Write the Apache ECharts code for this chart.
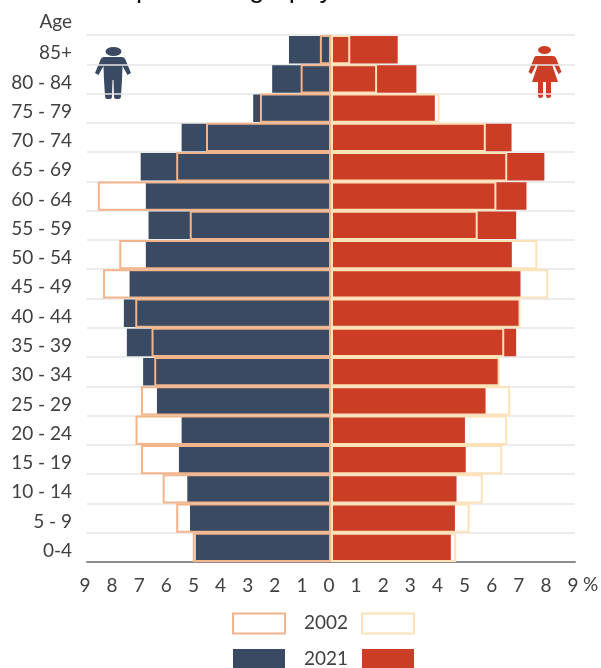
<!DOCTYPE html>
<html>
<head>
<meta charset="utf-8">
<style>
  html, body { margin: 0; padding: 0; background: #fff; overflow: hidden; }
  #chart { width: 601px; height: 668px; }
</style>
</head>
<body>
<div id="chart"></div>
<script src="https://cdn.jsdelivr.net/npm/echarts@6/dist/echarts.min.js"></script>
<script>
const ages = ['0-4', '5 - 9', '10 - 14', '15 - 19', '20 - 24', '25 - 29', '30 - 34', '35 - 39', '40 - 44',
  '45 - 49', '50 - 54', '55 - 59', '60 - 64', '65 - 69', '70 - 74', '75 - 79', '80 - 84', '85+'];
const male2021 = [4.99, 5.20, 5.30, 5.61, 5.51, 6.42, 6.93, 7.53, 7.64, 7.43, 6.83, 6.73, 6.83, 7.02, 5.51, 2.87, 2.17, 1.55];
const male2002 = [5.10, 5.71, 6.21, 7.01, 7.21, 7.01, 6.52, 6.62, 7.22, 8.41, 7.81, 5.21, 8.60, 5.71, 4.61, 2.62, 1.12, 0.41];
const female2021 = [4.42, 4.57, 4.63, 4.97, 4.94, 5.70, 6.18, 6.83, 6.97, 6.99, 6.67, 6.83, 7.21, 7.87, 6.66, 3.83, 3.15, 2.46];
const female2002 = [4.62, 5.11, 5.60, 6.32, 6.50, 6.61, 6.22, 6.39, 6.99, 8.01, 7.61, 5.41, 6.10, 6.50, 5.71, 4.00, 1.70, 0.71];

const BLUE = '#3a4a63';
const RED = '#cc3d25';
const MALE_LINE = '#f2b48a';
const FEMALE_LINE = '#fde2b8';
const TEXT = '#404040';
const FONT = 'Lato';

const manPath = 'M10.5 5.5 A8 4.5 0 1 1 26.5 5.5 A8 4.5 0 1 1 10.5 5.5 Z M9.5 11 L26.5 11 Q30 11 31 15 L36 27 L32.5 29 L27.5 20 L27 34 L26 50 Q26 53 23.5 53 L21 53 Q19 53 19 50 L18.5 34 L17.5 34 L17 50 Q17 53 15 53 L12.5 53 Q10 53 10 50 L9 34 L8.5 20 L3.5 29 L0 27 L5 15 Q6 11 9.5 11 Z';
const womanPath = 'M11 4 A6.5 4 0 1 1 24 4 A6.5 4 0 1 1 11 4 Z M9 10 L26 10 Q28 10 29 12 L34.5 26 L31.5 28 L26.5 18 L25.5 20 L31 36 L24 36 L24 50 Q24 52 21.5 52 Q19 52 19 50 L19 36 L16 36 L16 50 Q16 52 13.5 52 Q11 52 11 50 L11 36 L5 36 L10.5 20 L9.5 18 L4.5 28 L1.5 26 L7 12 Q7.5 10 9 10 Z';

echarts.graphic.registerShape('manIcon', echarts.graphic.extendPath(manPath));
echarts.graphic.registerShape('womanIcon', echarts.graphic.extendPath(womanPath));

const negative = arr => arr.map(v => -v);

function legendBox(x, y, fill, line) {
  return {
    type: 'rect',
    shape: { x: x, y: y, width: 52, height: 20 },
    style: { fill: fill, stroke: line, lineWidth: line ? 2 : 0 }
  };
}

function legendText(x, y, text) {
  return {
    type: 'text',
    x: x,
    y: y,
    style: { text: text, fill: TEXT, font: '19px ' + FONT, textAlign: 'left', textVerticalAlign: 'middle' }
  };
}

const chart = echarts.init(document.getElementById('chart'));

chart.setOption({
  animation: false,
  grid: { left: 87, right: 26, top: 35, bottom: 106 },
  xAxis: {
    type: 'value',
    min: -9,
    max: 9,
    interval: 1,
    axisLine: { show: true, onZero: false, lineStyle: { color: '#8c8c8c', width: 2 } },
    axisTick: { show: false },
    splitLine: { show: false },
    axisLabel: {
      color: TEXT,
      fontFamily: FONT,
      fontSize: 19,
      margin: 14,
      padding: [0, 4, 0, 0],
      formatter: v => Math.abs(v)
    }
  },
  yAxis: [
    {
      type: 'category',
      data: ages,
      axisLine: { show: false, onZero: false },
      axisTick: { show: false },
      splitLine: { show: true, interval: 0, lineStyle: { color: '#e6e6e6', width: 1.5 } },
      // labels sit a little below the middle of each row in the original
      axisLabel: { color: TEXT, fontFamily: FONT, fontSize: 19, margin: 15, interval: 0, verticalAlign: 'top', lineHeight: 7 }
    },
    // second axis so the outlines get their own bar layout on top of the filled bars
    {
      type: 'category',
      data: ages,
      position: 'left',
      show: false
    }
  ],
  series: [
    { name: 'male 2021', type: 'bar', yAxisIndex: 0, barWidth: '94%', barGap: '-100%', data: negative(male2021), itemStyle: { color: BLUE } },
    { name: 'female 2021', type: 'bar', yAxisIndex: 0, barWidth: '94%', barGap: '-100%', data: female2021, itemStyle: { color: RED } },
    { name: 'male 2002', type: 'bar', yAxisIndex: 1, barWidth: '100%', barGap: '-100%', data: negative(male2002), itemStyle: { color: 'transparent', borderColor: MALE_LINE, borderWidth: 2 } },
    { name: 'female 2002', type: 'bar', yAxisIndex: 1, barWidth: '100%', barGap: '-100%', data: female2002, itemStyle: { color: 'transparent', borderColor: FEMALE_LINE, borderWidth: 2 } }
  ],
  graphic: [
    // title is cut off by the top of the picture
    {
      type: 'text',
      x: 87,
      y: -25,
      style: { text: 'People demography', fill: '#111', font: '27.5px "Liberation Sans"', textAlign: 'left' }
    },
    { type: 'text', x: 72, y: 22, style: { text: 'Age', fill: TEXT, font: '19px ' + FONT, textAlign: 'right', textVerticalAlign: 'middle' } },
    { type: 'text', x: 583, y: 585, style: { text: '%', fill: TEXT, font: '19px ' + FONT, textAlign: 'left', textVerticalAlign: 'middle' } },
    { type: 'manIcon', x: 95, y: 46, style: { fill: BLUE } },
    { type: 'womanIcon', x: 527, y: 46, style: { fill: RED } },
    legendBox(233, 613.5, '#fff', MALE_LINE),
    legendBox(362, 613.5, '#fff', FEMALE_LINE),
    legendBox(233, 649, BLUE),
    legendBox(362, 649, RED),
    legendText(304, 623, '2002'),
    legendText(304, 659, '2021')
  ]
});
</script>
</body>
</html>
